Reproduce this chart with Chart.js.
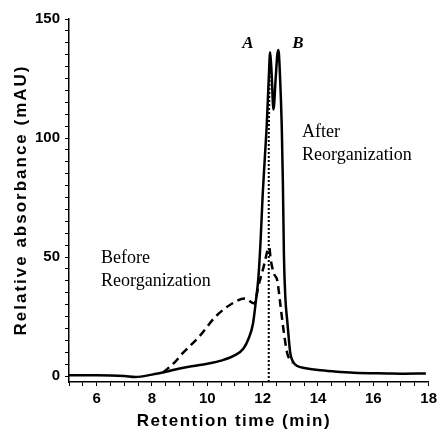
<!DOCTYPE html>
<html>
<head>
<meta charset="utf-8">
<script src="https://cdn.jsdelivr.net/npm/chart.js@4"></script>
<style>
  html, body { margin: 0; padding: 0; background: #fff; }
  #wrap { width: 441px; height: 432px; position: relative; }
</style>
</head>
<body>
<div id="wrap"><canvas id="chart"></canvas></div>
<script>
// After reorganization (solid trace)
const afterTimes = [5.0, 6.0, 7.0, 7.4, 8.0, 8.5, 9.0, 9.5, 10.0, 10.5, 11.0, 11.3, 11.5, 11.65, 11.76, 11.85, 11.93, 12.0, 12.08, 12.15, 12.22, 12.27, 12.32, 12.39, 12.47, 12.53, 12.57, 12.62, 12.69, 12.73, 12.77, 12.82, 12.89, 12.95, 13.0, 13.1, 13.25, 13.6, 14.0, 14.6, 15.3, 16.5, 17.0, 17.9];
const afterValues = [0.3, 0.3, 0, -0.4, 0.6, 1.8, 3.2, 4.2, 5.2, 6.5, 8.8, 11.5, 16, 22, 32, 42, 58, 76, 92, 106, 125, 136, 128, 112, 125, 135, 137, 128, 105, 82, 50, 33, 23, 15, 9.5, 6, 4.2, 3.2, 2.5, 1.9, 1.4, 1.1, 1.0, 1.1];

// Before reorganization (dashed trace)
const beforeTimes = [8.4, 8.8, 9.1, 9.7, 10.3, 10.9, 11.35, 11.7, 11.85, 12.06, 12.18, 12.24, 12.29, 12.41, 12.53, 12.65, 12.77, 12.89, 13.0, 13.1];
const beforeValues = [1.5, 5.5, 9.5, 16.5, 25, 30.5, 32.6, 30.5, 38, 47, 53, 54, 49, 43, 40, 29, 18, 9.5, 6.7, 5.5];

// dotted cut line at peak A
const markerTimes = [12.22, 12.22, 12.25, 12.27];
const markerValues = [-2.5, 100, 125, 136];

const xTickLabels = [6, 8, 10, 12, 14, 16, 18];
const yTickLabels = [0, 50, 100, 150];

function toPoints(xs, ys) {
    return xs.map((x, i) => ({ x: x, y: ys[i] }));
}

// peak letters, curve labels and the spaced-out axis titles
const annotations = {
    id: 'annotations',
    afterDraw(chart) {
        const ctx = chart.ctx;
        ctx.save();
        ctx.fillStyle = '#000';
        ctx.textBaseline = 'middle';
        ctx.font = 'bold italic 17px "Liberation Serif"';
        ctx.textAlign = 'center';
        ctx.fillText('A', 248, 44);
        ctx.fillText('B', 298, 44);
        ctx.font = '18px "Liberation Serif"';
        ctx.textAlign = 'left';
        ctx.fillText('After', 302, 132);
        ctx.fillText('Reorganization', 302, 155);
        ctx.fillText('Before', 101, 258);
        ctx.fillText('Reorganization', 101, 281);

        ctx.font = 'bold 17px "Liberation Sans"';
        ctx.letterSpacing = '1.5px';
        ctx.textAlign = 'center';
        ctx.fillText('Retention time (min)', 234, 421);
        ctx.translate(21, 200);
        ctx.rotate(-Math.PI / 2);
        ctx.letterSpacing = '2px';
        ctx.fillText('Relative absorbance (mAU)', 0, 0);
        ctx.restore();
    }
};

const tickFont = { family: '"Liberation Sans", Arial', size: 15, weight: 'bold' };

new Chart(document.getElementById('chart'), {
    type: 'line',
    data: {
        datasets: [
            {
                label: 'After',
                data: toPoints(afterTimes, afterValues),
                borderColor: '#000',
                borderWidth: 2.5,
                pointRadius: 0,
                cubicInterpolationMode: 'monotone'
            },
            {
                label: 'Before',
                data: toPoints(beforeTimes, beforeValues),
                borderColor: '#000',
                borderWidth: 2.5,
                borderDash: [8, 5],
                pointRadius: 0,
                cubicInterpolationMode: 'monotone'
            },
            {
                label: 'Cut',
                data: toPoints(markerTimes, markerValues),
                borderColor: '#000',
                borderWidth: 2,
                borderDash: [2, 2],
                pointRadius: 0,
                tension: 0
            }
        ]
    },
    options: {
        responsive: true,
        maintainAspectRatio: false,
        animation: false,
        layout: { padding: { left: 0, right: 8, top: 19, bottom: 0 } },
        plugins: {
            legend: { display: false },
            tooltip: { enabled: false }
        },
        scales: {
            x: {
                type: 'linear',
                min: 5,
                max: 18,
                afterFit: (scale) => { scale.height = 50; },
                afterBuildTicks: (scale) => {
                    const t = [];
                    for (let v = 5; v <= 18; v += 0.5) t.push({ value: v });
                    scale.ticks = t;
                },
                grid: { drawOnChartArea: false, tickLength: 4, color: '#000', tickWidth: 1 },
                border: { color: '#000', width: 1.5 },
                ticks: {
                    autoSkip: false,
                    maxRotation: 0,
                    padding: 4,
                    color: '#000',
                    font: tickFont,
                    callback: (v) => xTickLabels.includes(v) ? String(v) : ''
                }
            },
            y: {
                type: 'linear',
                min: -2.5,
                max: 150,
                afterFit: (scale) => { scale.width = 69; },
                afterBuildTicks: (scale) => {
                    const t = [];
                    for (let v = 0; v <= 150; v += 5) t.push({ value: v });
                    scale.ticks = t;
                },
                grid: { drawOnChartArea: false, tickLength: 4, color: '#000', tickWidth: 1 },
                border: { color: '#000', width: 1.5 },
                ticks: {
                    autoSkip: false,
                    padding: 5,
                    color: '#000',
                    font: tickFont,
                    callback: (v) => yTickLabels.includes(v) ? String(v) : ''
                }
            }
        }
    },
    plugins: [annotations]
});
</script>
</body>
</html>
